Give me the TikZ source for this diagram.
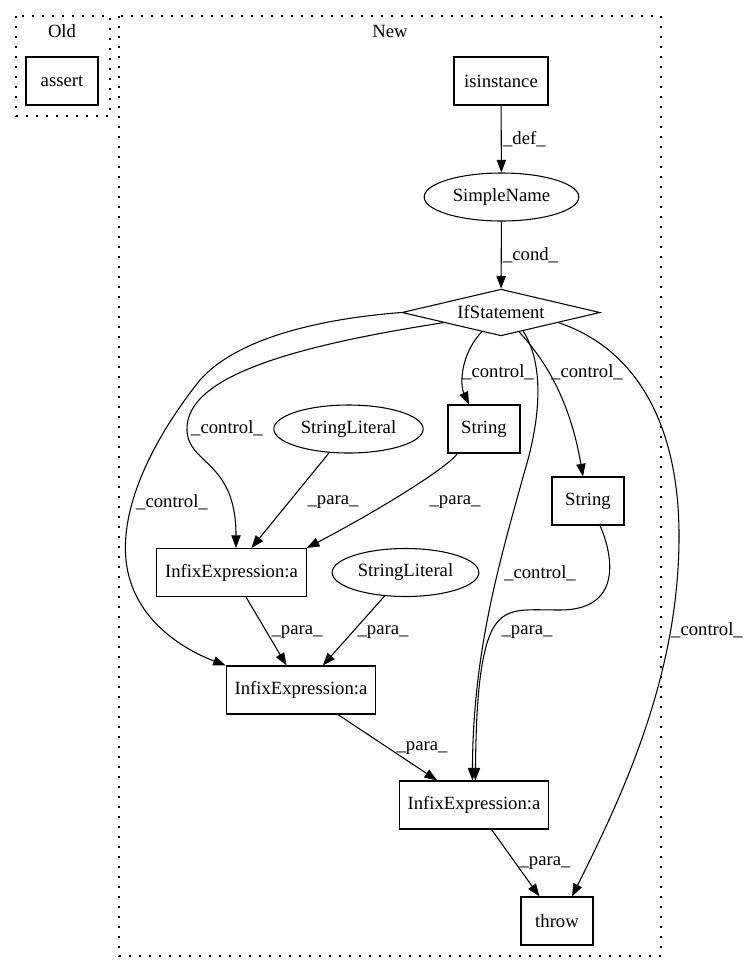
\documentclass[tikz,border=0pt]{standalone}
\usepackage{fontspec}
\setmainfont{Liberation Serif}
\usepackage{tikz}
\usetikzlibrary{arrows.meta,shapes.geometric,positioning}

\begin{document}
\begin{tikzpicture}[x=0.75pt,y=-0.75pt,font=\fontsize{14}{16}\selectfont,
	box/.style={draw,line width=0.8pt,rectangle,minimum height=36pt,inner sep=0pt},
	oval/.style={draw,line width=0.8pt,ellipse,minimum height=36pt,inner sep=0pt},
	cluster/.style={draw,line width=0.9pt,dash pattern=on 1.2pt off 6.3pt},
	edge/.style={line width=0.8pt,-{Triangle[length=9.5pt,width=7pt]}},
	lbl/.style={inner sep=0pt}]
	\useasboundingbox (0,0) rectangle (745,972);
	\draw[cluster] (16,16) rectangle (110,116);
	\draw[cluster] (119,16) rectangle (661,956);
	\node[lbl] at (62,31) (oldlbl) {Old};
	\node[lbl] at (390,31) (newlbl) {New};
	\node[box,minimum width=54pt] at (62,81) (assert) {assert};
	\node[box,minimum width=70.5pt] at (501,81) (isinst) {isinstance};
	\node[oval,minimum width=116pt] at (501.5,197) (simple) {SimpleName};
	\node[draw,line width=0.8pt,diamond,aspect=4.2,inner sep=0pt,minimum width=148.5pt,minimum height=35pt] at (501,312.5) (ifst) {IfStatement};
	\node[box,minimum width=54pt] at (484,429) (str1) {String};
	\node[oval,minimum width=112pt] at (348.5,429) (strlit1) {StringLiteral};
	\node[box,minimum width=54pt] at (588,501) (str2) {String};
	\node[box,minimum width=112pt] at (231.5,572.5) (infix1) {InfixExpression:a};
	\node[oval,minimum width=110pt] at (405.5,572.5) (strlit2) {StringLiteral};
	\node[box,minimum width=112pt] at (301,690) (infix2) {InfixExpression:a};
	\node[box,minimum width=112pt] at (474,805) (infix3) {InfixExpression:a};
	\node[box,minimum width=54pt] at (557,921) (throw) {throw};
	\draw[edge] (isinst) -- (simple) node[midway,right,inner sep=1pt] {\_def\_};
	\draw[edge] (simple) -- (ifst) node[midway,right,inner sep=1pt] {\_cond\_};
	\draw[edge] (ifst.225) .. controls (460,355) and (460,385) .. ([xshift=-11.25pt]str1.north)
		node[lbl] at (498,372) {\_control\_};
	\draw[edge] (ifst.313) .. controls (545,360) and (570,400) .. ([xshift=-3.75pt]str2.north)
		node[lbl] at (587,372) {\_control\_};
	\draw[edge] (ifst.190) .. controls (300,345) and (185,375) .. (187,430)
		.. controls (188,465) and (236,460) .. ([xshift=3.4pt]infix1.north)
		node[lbl] at (227,428) {\_control\_};
	\draw[edge] (ifst.west) .. controls (330,318) and (240,335) .. (200,380)
		.. controls (160,430) and (120,500) .. (126,560)
		.. controls (132,620) and (185,650) .. (infix2.north west)
		node[lbl] at (172,502) {\_control\_};
	\draw[edge] (ifst.320) .. controls (545,365) and (540,420) .. (525,470)
		.. controls (500,560) and (473,650) .. ([xshift=-1.2pt]infix3.north)
		node[lbl] at (540,573) {\_control\_};
	\draw[edge] (ifst.350) .. controls (640,350) and (680,430) .. (679,540)
		.. controls (678,680) and (620,800) .. ([xshift=11.25pt]throw.north)
		node[lbl] at (707,630) {\_control\_};
	\draw[edge] (strlit1) -- (infix1) node[lbl] at (333,502) {\_para\_};
	\draw[edge] ([xshift=7.5pt]str1.south west) .. controls (445,470) and (370,515) .. (infix1.north east)
		node[lbl] at (455,502) {\_para\_};
	\draw[edge] ([xshift=9pt]str2.south) .. controls (615,560) and (620,610) .. (560,610)
		.. controls (520,610) and (500,605) .. (488,640)
		.. controls (478,670) and (476,720) .. ([xshift=1pt]infix3.north)
		node[lbl] at (527,632) {\_para\_};
	\draw[edge] (infix1) -- (infix2) node[lbl] at (297,632) {\_para\_};
	\draw[edge] (strlit2) -- (infix2) node[lbl] at (383,632) {\_para\_};
	\draw[edge] (infix2) -- (infix3) node[lbl] at (422,748) {\_para\_};
	\draw[edge] (infix3) -- (throw) node[lbl] at (545,863) {\_para\_};
\end{tikzpicture}
\end{document}
